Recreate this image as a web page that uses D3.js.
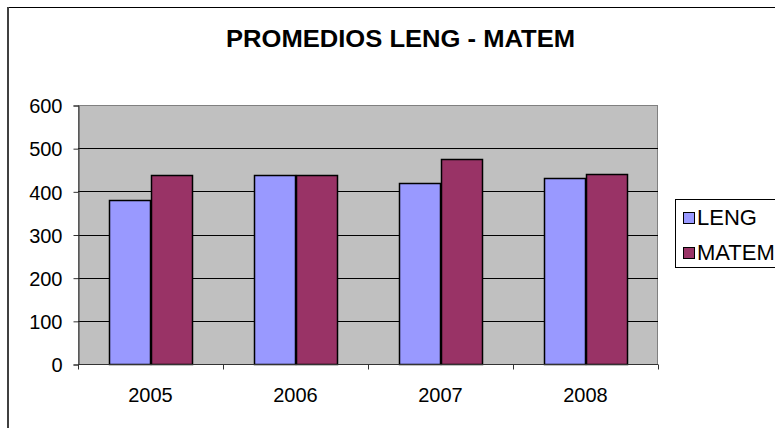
<!DOCTYPE html>
<html>
<head>
<meta charset="utf-8">
<script src="https://cdn.jsdelivr.net/npm/d3@7"></script>
<style>
  body { margin: 0; background: #fff; }
  svg { display: block; }
  text { font-family: "Liberation Sans", Arial, sans-serif; fill: #000; }
</style>
</head>
<body>
<script>
// data
var years = ["2005", "2006", "2007", "2008"];
var series = ["LENG", "MATEM"];
var leng = [381, 438, 419, 430];
var matem = [437, 438, 476, 441];
var yTicks = [0, 100, 200, 300, 400, 500, 600];
var colours = { LENG: "#9999ff", MATEM: "#993366" };

var width = 775;
var height = 428;

var svg = d3.select("body")
    .append("svg")
    .attr("width", width)
    .attr("height", height);

// chart frame (runs off the right and bottom of the picture)
svg.append("rect")
    .attr("x", 7.5)
    .attr("y", 7.5)
    .attr("width", 1000)
    .attr("height", 1000)
    .attr("fill", "#fff")
    .attr("stroke", "#000");
svg.append("line")
    .attr("x1", 8).attr("x2", 8)
    .attr("y1", 7).attr("y2", height)
    .attr("stroke", "#404040")
    .attr("stroke-width", 2);

// title
svg.append("text")
    .attr("x", 226)
    .attr("y", 47)
    .attr("textLength", 349)
    .attr("lengthAdjust", "spacingAndGlyphs")
    .style("font-size", "24px")
    .style("font-weight", "bold")
    .text("PROMEDIOS LENG - MATEM");

// scales
var x0 = d3.scaleBand()
    .domain(years)
    .range([78, 658]);

var x1 = d3.scaleBand()
    .domain(series)
    .range([0, x0.bandwidth()])
    .paddingOuter(0.75);

var y = d3.scaleLinear()
    .domain([0, 600])
    .range([364, 105]);

// plot area
svg.append("rect")
    .attr("x", 78.5)
    .attr("y", y(600) + 0.5)
    .attr("width", 579)
    .attr("height", y(0) - y(600))
    .attr("fill", "#c0c0c0")
    .attr("stroke", "#808080");

// gridlines
svg.append("g")
    .selectAll("line")
    .data(yTicks.filter(function(d) { return d > 0 && d < 600; }))
    .enter()
    .append("line")
    .attr("x1", 78)
    .attr("x2", 658)
    .attr("y1", function(d) { return Math.round(y(d)) + 0.5; })
    .attr("y2", function(d) { return Math.round(y(d)) + 0.5; })
    .attr("stroke", "#000");

// bars
var rows = years.map(function(yr, i) {
    return { year: yr, values: [{ key: "LENG", value: leng[i] }, { key: "MATEM", value: matem[i] }] };
});

var group = svg.append("g")
    .selectAll("g")
    .data(rows)
    .enter()
    .append("g")
    .attr("transform", function(d) { return "translate(" + x0(d.year) + ",0)"; });

group.selectAll("rect")
    .data(function(d) { return d.values; })
    .enter()
    .append("rect")
    .attr("x", function(d) { return Math.round(x1(d.key)) + 0.5; })
    .attr("y", function(d) { return Math.round(y(d.value)) + 0.5; })
    .attr("width", function(d) { return Math.round(x1.bandwidth()); })
    .attr("height", function(d) { return Math.round(y(0)) - Math.round(y(d.value)); })
    .attr("fill", function(d) { return colours[d.key]; })
    .attr("stroke", "#000")
    .attr("stroke-width", 1.5);

// y axis
var yAxis = svg.append("g")
    .attr("transform", "translate(78.5,0.5)")
    .call(d3.axisLeft(y).tickValues(yTicks).tickSize(5).tickPadding(11));
yAxis.select(".domain").attr("stroke", "#333");
yAxis.selectAll(".tick line").attr("stroke", "#333");
yAxis.selectAll("text")
    .style("font-size", "20px")
    .style("font-family", "'Liberation Sans', Arial, sans-serif")
    .attr("dy", "0.36em");

// x axis, ticks at category boundaries
var xAxis = svg.append("g")
    .attr("transform", "translate(0," + (y(0) + 0.5) + ")");
xAxis.append("line")
    .attr("x1", 78).attr("x2", 658)
    .attr("stroke", "#333");
xAxis.selectAll(".bound")
    .data(years.concat(["end"]))
    .enter()
    .append("line")
    .attr("class", "bound")
    .attr("x1", function(d, i) { return 78.5 + i * x0.step(); })
    .attr("x2", function(d, i) { return 78.5 + i * x0.step(); })
    .attr("y1", 0)
    .attr("y2", 5)
    .attr("stroke", "#333");
xAxis.selectAll("text")
    .data(years)
    .enter()
    .append("text")
    .attr("x", function(d) { return x0(d) + x0.bandwidth() / 2; })
    .attr("y", 37)
    .attr("text-anchor", "middle")
    .style("font-size", "20px")
    .text(function(d) { return d; });

// legend
var legend = svg.append("g");
legend.append("rect")
    .attr("x", 675.5)
    .attr("y", 199.5)
    .attr("width", 200)
    .attr("height", 68)
    .attr("fill", "#fff")
    .attr("stroke", "#000");

var item = legend.selectAll(".item")
    .data(series)
    .enter()
    .append("g")
    .attr("class", "item")
    .attr("transform", function(d, i) { return "translate(683," + (212 + i * 35) + ")"; });

item.append("rect")
    .attr("x", 0.5)
    .attr("y", 0.5)
    .attr("width", 11)
    .attr("height", 11)
    .attr("fill", function(d) { return colours[d]; })
    .attr("stroke", "#000");

item.append("text")
    .attr("x", 14)
    .attr("y", 12.5)
    .style("font-size", "22px")
    .text(function(d) { return d; });
</script>
</body>
</html>
